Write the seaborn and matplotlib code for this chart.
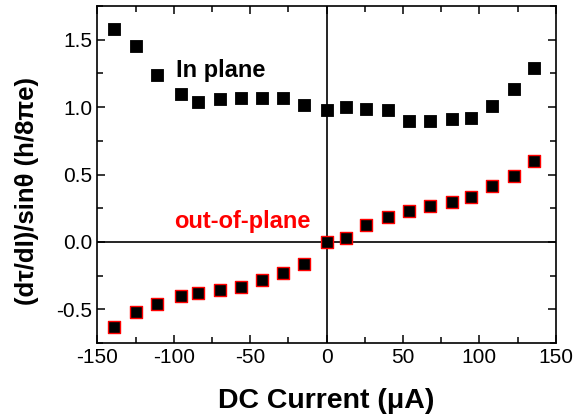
import matplotlib
matplotlib.use('Agg')
import matplotlib.pyplot as plt
from matplotlib.ticker import MultipleLocator, FormatStrFormatter
import seaborn as sns

current = [-139, -125, -111, -95.5, -84, -69.5, -56, -42, -28.5, -15, 0,
           12.5, 26, 40, 54, 67.5, 82, 94.5, 108, 122.5, 136]
in_plane = [1.58, 1.454, 1.236, 1.097, 1.04, 1.06, 1.068, 1.065, 1.07, 1.018, 0.98,
            1.0, 0.988, 0.98, 0.899, 0.894, 0.911, 0.921, 1.008, 1.137, 1.29]
out_of_plane = [-0.631, -0.522, -0.46, -0.401, -0.381, -0.354, -0.331, -0.282, -0.228, -0.163, 0.0,
                0.027, 0.126, 0.183, 0.23, 0.265, 0.297, 0.337, 0.416, 0.486, 0.597]

sns.set_style('ticks')
plt.rcParams['font.family'] = ['Liberation Sans', 'DejaVu Sans']
plt.rcParams['axes.unicode_minus'] = False
plt.rcParams['text.color'] = 'black'
plt.rcParams['axes.labelcolor'] = 'black'

fig = plt.figure(figsize=(5.76, 4.18), dpi=100)
ax = fig.add_axes([0.169, 0.179, 0.796, 0.807])

# zero lines
ax.axvline(0, color='black', lw=1.2, zorder=1)
ax.axhline(0, color='black', lw=1.2, zorder=1)

sns.scatterplot(x=current, y=in_plane, marker='s', s=70, color='black',
                edgecolor='black', linewidth=0.6, ax=ax, zorder=3)
sns.scatterplot(x=current, y=out_of_plane, marker='s', s=70, color='black',
                edgecolor='red', linewidth=1.0, ax=ax, zorder=3)

ax.text(-98.6, 1.224, 'In plane', fontsize=17, fontweight='bold', color='black')
ax.text(-10.6, 0.10, 'out-of-plane', fontsize=17, fontweight='bold', color='red', ha='right')

ax.set_xlim(-150, 150)
ax.set_ylim(-0.75, 1.75)
ax.xaxis.set_major_locator(MultipleLocator(50))
ax.xaxis.set_minor_locator(MultipleLocator(25))
ax.yaxis.set_major_locator(MultipleLocator(0.5))
ax.yaxis.set_minor_locator(MultipleLocator(0.25))
ax.yaxis.set_major_formatter(FormatStrFormatter('%.1f'))

ax.tick_params(which='both', direction='in', top=True, right=True,
               labelsize=15, width=1.1, colors='black')
ax.tick_params(which='major', length=6)
ax.tick_params(which='minor', length=4)
for sp in ax.spines.values():
    sp.set_linewidth(1.2)
    sp.set_color('black')

ax.set_xlabel('DC Current (\u03bcA)', fontsize=20.5, fontweight='bold', labelpad=15)
ax.set_ylabel('(d\u03c4/dI)/sin\u03b8 (h/8\u03c0e)', fontsize=18.5, fontweight='bold')
ax.yaxis.set_label_coords(-0.127, 0.45)

fig.savefig('out.png', dpi=100)
